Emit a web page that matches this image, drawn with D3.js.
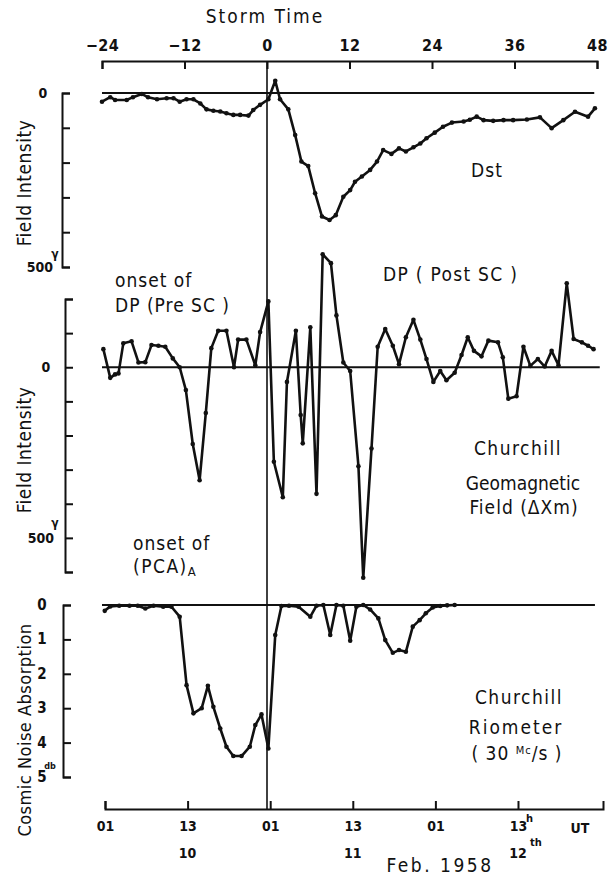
<!DOCTYPE html>
<html>
<head>
<meta charset="utf-8">
<script src="https://cdn.jsdelivr.net/npm/d3@7"></script>
<style>
  body { margin: 0; background: #fff; }
  svg { display: block; }
  text { font-family: "DejaVu Sans Condensed", "DejaVu Sans", sans-serif; fill: #111; }
</style>
</head>
<body>
<div id="chart"></div>
<script>
// storm time ticks (top) and UT ticks (bottom)
const stormTicks = [-24, -12, 0, 12, 24, 36, 48];
const utTicks = [1, 13, 25, 37, 49, 61];           // hours after 00 UT Feb 10
const utTickLabels = ["01", "13", "01", "13", "01", "13"];
const dayLabels = [{ h: 13, t: "10" }, { h: 37, t: "11" }, { h: 61, t: "12" }];

// Dst (gamma), by storm time (hours)
const dstHours = [-24, -22.8, -22.1, -20.4, -19.5, -18.2, -17.3, -16, -14.6, -13.6,
  -12.7, -11.7, -10.7, -9.7, -8.8, -7.8, -6.8, -5.9, -4.9, -3.9,
  -2.7, -2, -1, 0.2, 1.2, 1.9, 3.1, 4.1, 5, 6,
  7, 8, 9.1, 10, 11.1, 12.1, 12.8, 13.8, 15, 16,
  16.9, 18.1, 19.2, 20.2, 21.3, 22.3, 23.2, 24.4, 25.6, 26.9,
  28.6, 29.5, 30.5, 31.5, 32.9, 34.4, 35.8, 37.8, 39.7, 41.4,
  43.1, 44.8, 46.7, 47.7];
const dstValues = [-25, -12, -20, -20, -12, -3, -12, -18, -15, -15,
  -25, -18, -18, -30, -47, -51, -53, -58, -63, -63,
  -65, -49, -34, -18, 35, -18, -47, -121, -197, -210,
  -288, -355, -365, -351, -298, -279, -255, -240, -221, -197,
  -164, -175, -159, -168, -156, -145, -130, -114, -97, -85,
  -82, -77, -68, -78, -80, -78, -78, -76, -70, -101,
  -78, -54, -68, -44];

// Churchill geomagnetic field dXm (gamma)
const dxHours = [-23.8, -22.8, -22.1, -21.6, -20.9, -19.7, -18.7, -17.7, -16.8, -15.8,
  -14.8, -13.7, -12.7, -11.8, -10.8, -9.8, -8.9, -8.1, -7.1, -5.9,
  -4.8, -4.2, -3, -1.7, -1, 0.2, 1, 2.3, 2.9, 4.2,
  4.9, 5.2, 6.3, 7.2, 8.1, 9.3, 10.1, 11.1, 12.1, 13.3, 14,
  15.2, 16.1, 17.2, 18.3, 19.2, 20.2, 21.3, 22.3, 23.2, 24.2,
  25.2, 26.1, 27.3, 28.3, 29.2, 30.1, 31.2, 32.2, 33.6, 34.3,
  35.1, 36.3, 37.3, 38.3, 39.4, 40.4, 41.4, 42.4, 43.6, 44.6,
  45.8, 46.7, 47.5];
const dxValues = [53, -31, -21, -18, 70, 76, 14, 15, 65, 63,
  60, 26, 0, -67, -225, -331, -134, 56, 107, 107,
  0, 81, 81, 6, 103, 193, -277, -381, -43, 107,
  -140, -223, 117, -371, 331, 305, 152, 14, -11, -290, -617,
  -238, 60, 112, 63, 9, 88, 139, 81, 24, -43,
  -11, -38, -16, 36, 88, 48, 32, 78, 73, 29,
  -92, -85, 60, 4, 24, 2, 48, 6, 246, 83,
  73, 63, 53];

// Churchill riometer, cosmic noise absorption (db)
const rioHours = [-23.6, -22.8, -21.5, -20, -18.8, -17.7, -16.5, -15.1, -13.9, -12.7,
  -11.7, -10.7, -9.5, -8.6, -7.8, -6.8, -5.9, -4.9, -3.7, -2.5,
  -1.7, -0.8, 0.2, 1.2, 2.1, 3.2, 4.6, 6.3, 7.2, 8.2,
  9.2, 10.1, 11.1, 12.1, 13, 14, 15, 16.2, 17.2, 18.3,
  19.2, 20.2, 21.2, 22.2, 23.1, 24.1, 25.2, 26.2, 27.3];
const rioValues = [0.17, 0.04, 0.02, 0.02, 0.02, 0.1, 0.02, 0.05, 0.05, 0.34,
  2.33, 3.15, 3.0, 2.35, 2.96, 3.59, 4.12, 4.39, 4.39, 4.12,
  3.49, 3.18, 4.17, 0.87, 0.03, 0.02, 0.05, 0.34, 0.02, 0,
  0.87, 0, 0.02, 1.04, 0.05, 0, 0.13, 0.39, 1.02, 1.39,
  1.31, 1.36, 0.63, 0.44, 0.24, 0.07, 0.03, 0.01, 0];

const width = 612, height = 881;
const svg = d3.select("#chart").append("svg")
  .attr("width", width)
  .attr("height", height);

// scales
const x = d3.scaleLinear().domain([-24, 48]).range([102, 597]);
const xUT = d3.scaleLinear().domain([1, 73.35]).range([105, 603]);
const yDst = d3.scaleLinear().domain([0, -500]).range([93, 267]);
const yDx = d3.scaleLinear().domain([200, -600]).range([299, 572]);
const yRio = d3.scaleLinear().domain([0, 5]).range([605, 777]);

function styleAxis(g) {
  g.select(".domain").attr("stroke", "#111").attr("stroke-width", 2);
  g.selectAll(".tick line").attr("stroke", "#111").attr("stroke-width", 2);
}

// top storm-time axis
svg.append("g")
  .attr("transform", "translate(0,61)")
  .call(d3.axisTop(x).tickValues(stormTicks).tickSize(-8).tickSizeOuter(-8).tickPadding(10))
  .call(styleAxis)
  .call(g => g.selectAll(".tick text")
    .attr("font-family", null).attr("font-size", null)
    .style("font-size", "16px").style("font-weight", "bold").style("letter-spacing", "0.5px"));

// bottom UT axis
svg.append("g")
  .attr("transform", "translate(0,809)")
  .call(d3.axisBottom(xUT).tickValues(utTicks).tickFormat((d, i) => utTickLabels[i])
    .tickSize(-8).tickSizeOuter(-8).tickPadding(12))
  .call(styleAxis)
  .call(g => g.selectAll(".tick text")
    .attr("font-family", null).attr("font-size", null)
    .style("font-size", "14px").style("font-weight", "bold"));

svg.selectAll(".day")
  .data(dayLabels)
  .join("text")
  .attr("class", "day")
  .attr("x", d => xUT(d.h))
  .attr("y", 858)
  .attr("text-anchor", "middle")
  .style("font-size", "14px")
  .style("font-weight", "bold")
  .text(d => d.t);

svg.append("text").attr("x", xUT(61) + 12).attr("y", 846)
  .style("font-size", "11px").style("font-weight", "bold").text("th");
svg.append("text").attr("x", xUT(61) + 8).attr("y", 822)
  .style("font-size", "11px").style("font-weight", "bold").text("h");
svg.append("text").attr("x", 580).attr("y", 833)
  .attr("text-anchor", "middle")
  .style("font-size", "14px").style("font-weight", "bold").text("UT");

// left bracket axes
function leftAxis(scale, xPos, values) {
  svg.append("g")
    .attr("transform", `translate(${xPos},0)`)
    .call(d3.axisRight(scale).tickValues(values).tickFormat("").tickSize(8).tickSizeOuter(8))
    .call(styleAxis);
}
leftAxis(yDst, 62, d3.range(0, -501, -100));
leftAxis(yDx, 65, d3.range(200, -601, -100));
leftAxis(yRio, 63, d3.range(0, 6, 1));

// y labels
const lab = (xx, yy, t, size) => svg.append("text")
  .attr("x", xx).attr("y", yy)
  .attr("text-anchor", "middle")
  .attr("dominant-baseline", "central")
  .style("font-size", size + "px")
  .style("font-weight", "bold")
  .text(t);

lab(43, yDst(0), "0", 14);
lab(40, yDst(-500), "500", 14);
lab(55, yDst(-500) - 13, "γ", 12);
lab(46, yDx(0), "0", 14);
lab(41, yDx(-500), "500", 14);
lab(55, yDx(-500) - 15, "γ", 12);
svg.selectAll(".rioLab")
  .data(d3.range(0, 6))
  .join("text")
  .attr("class", "rioLab")
  .attr("x", 42)
  .attr("y", d => yRio(d))
  .attr("text-anchor", "middle")
  .attr("dominant-baseline", "central")
  .style("font-size", "15px")
  .style("font-weight", "bold")
  .text(d => d);
lab(50, yRio(5) - 11, "db", 9);

const vTitle = (cy, t, size) => svg.append("text")
  .attr("transform", `translate(24,${cy}) rotate(-90)`)
  .attr("text-anchor", "middle")
  .attr("dominant-baseline", "central")
  .style("font-size", size + "px")
  .style("letter-spacing", "0.5px")
  .text(t);
vTitle(183, "Field Intensity", 19);
vTitle(450, "Field Intensity", 19);
vTitle(730, "Cosmic Noise Absorption", 18);

// zero lines and SC line
const hline = (yy, x2) => svg.append("line")
  .attr("x1", x(-24)).attr("x2", x2).attr("y1", yy).attr("y2", yy)
  .attr("stroke", "#111").attr("stroke-width", 1.8);
hline(yDst(0), x(47.6));
hline(yDx(0), x(48.4));
hline(yRio(0), x(47.7));

svg.append("line")
  .attr("x1", x(0)).attr("x2", x(0))
  .attr("y1", 61).attr("y2", 809)
  .attr("stroke", "#111").attr("stroke-width", 1.6);

// series
function series(hours, values, yScale) {
  const pts = hours.map((h, i) => [x(h), yScale(values[i])]);
  svg.append("path")
    .attr("d", d3.line()(pts))
    .attr("fill", "none")
    .attr("stroke", "#111")
    .attr("stroke-width", 2.6)
    .attr("stroke-linejoin", "round");
  svg.append("g").selectAll("circle")
    .data(pts)
    .join("circle")
    .attr("cx", d => d[0]).attr("cy", d => d[1])
    .attr("r", 2.3)
    .attr("fill", "#111");
}
series(dstHours, dstValues, yDst);
series(dxHours, dxValues, yDx);
series(rioHours, rioValues, yRio);

// annotations
const note = (xx, yy, t, ls, anchor) => svg.append("text")
  .attr("x", xx).attr("y", yy)
  .attr("text-anchor", anchor || "start")
  .style("font-size", "19px")
  .style("letter-spacing", ls + "px")
  .text(t);

note(265, 23, "Storm Time", 2, "middle");
note(440, 872, "Feb. 1958", 2.5, "middle");
note(487, 177, "Dst", 1, "middle");
note(115, 287, "onset of", 1);
note(115, 312, "DP (Pre SC )", 1);
note(383, 281, "DP ( Post SC )", 1.3);
note(518, 455, "Churchill", 1.5, "middle");
note(523, 490, "Geomagnetic", 0, "middle");
note(524, 514, "Field (ΔXm)", 1, "middle");
note(133, 550, "onset of", 1);
const pca = note(133, 573, "(PCA)", 1.5);
pca.append("tspan").attr("dy", 3).style("font-size", "13px").text("A");
note(519, 704, "Churchill", 1.5, "middle");
note(516, 734, "Riometer", 2, "middle");
const mc = note(517, 760, "( 30 ", 1, "middle");
mc.append("tspan").attr("dy", -6).style("font-size", "11px").text("Mc");
mc.append("tspan").attr("dy", 6).text("/s )");
</script>
</body>
</html>
